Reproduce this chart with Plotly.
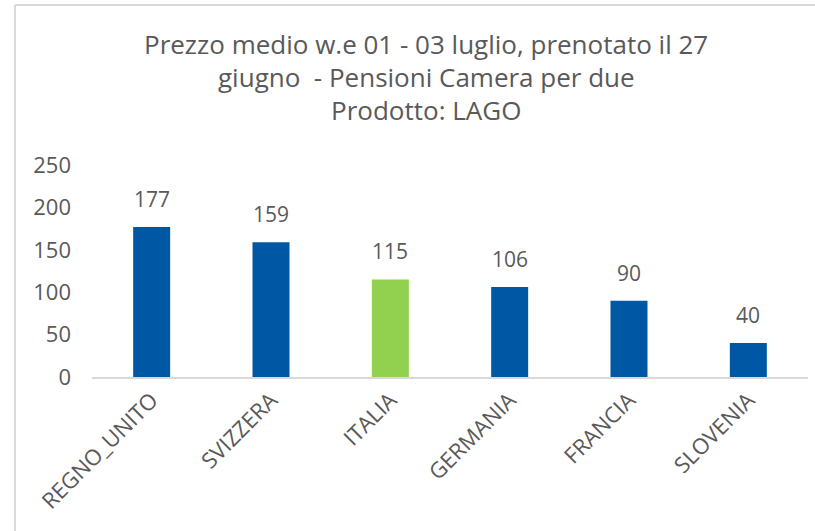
import plotly.graph_objects as go

categories = ["REGNO_UNITO", "SVIZZERA", "ITALIA", "GERMANIA", "FRANCIA", "SLOVENIA"]
values = [177, 159, 115, 106, 90, 40]
bar_colors = ["#0057A3", "#0057A3", "#92D050", "#0057A3", "#0057A3", "#0057A3"]
title_lines = [
    "Prezzo medio w.e 01 - 03 luglio, prenotato il 27",
    "giugno  - Pensioni Camera per due",
    "Prodotto: LAGO",
]
y_ticks = [0, 50, 100, 150, 200, 250]

FONT = "Open Sans"
TXT = "#595959"
W, H = 815, 531
L, R, T, B = 92, 7, 165, 154
pw, ph = W - L - R, H - T - B

fig = go.Figure(go.Bar(
    x=categories, y=values, marker_color=bar_colors, width=0.31,
    marker_line_width=0, hoverinfo="skip",
))

for c, v in zip(categories, values):
    fig.add_annotation(x=c, y=v, text=str(v), showarrow=False, yanchor="bottom",
                       yshift=12, font=dict(family=FONT, size=21, color=TXT))

title_y = [44, 77, 110]
for t, py in zip(title_lines, title_y):
    fig.add_annotation(xref="paper", yref="paper", x=(426 - L) / pw, y=(H - B - py) / ph,
                       text=t, showarrow=False, xanchor="center", yanchor="middle",
                       font=dict(family=FONT, size=26, color=TXT))

# chart-area border (left and top edges visible)
bx = (15 - L) / pw
bx_end = (W + 10 - L) / pw
by = (H - B - 5) / ph
by_end = (H - B - H - 10) / ph
fig.add_shape(type="line", xref="paper", yref="paper", x0=bx, x1=bx, y0=by, y1=by_end,
              line=dict(color="#D9D9D9", width=2))
fig.add_shape(type="line", xref="paper", yref="paper", x0=bx, x1=bx_end, y0=by, y1=by,
              line=dict(color="#D9D9D9", width=2))

fig.update_layout(
    width=W, height=H, margin=dict(l=L, r=R, t=T, b=B, autoexpand=False),
    paper_bgcolor="white", plot_bgcolor="white", showlegend=False,
    font=dict(family=FONT, size=21, color=TXT),
    xaxis=dict(showline=True, linecolor="#D9D9D9", linewidth=1.5, tickangle=-45,
               ticks="", showgrid=False, tickfont=dict(size=22, color=TXT)),
    yaxis=dict(range=[0, 250], tickvals=y_ticks, showgrid=False, zeroline=False,
               ticks="", ticklabelstandoff=20, tickfont=dict(size=22, color=TXT)),
)

fig.write_html("out.html", config={"displayModeBar": False},
               post_script="document.body.style.margin='0';document.body.style.overflow='hidden';")
